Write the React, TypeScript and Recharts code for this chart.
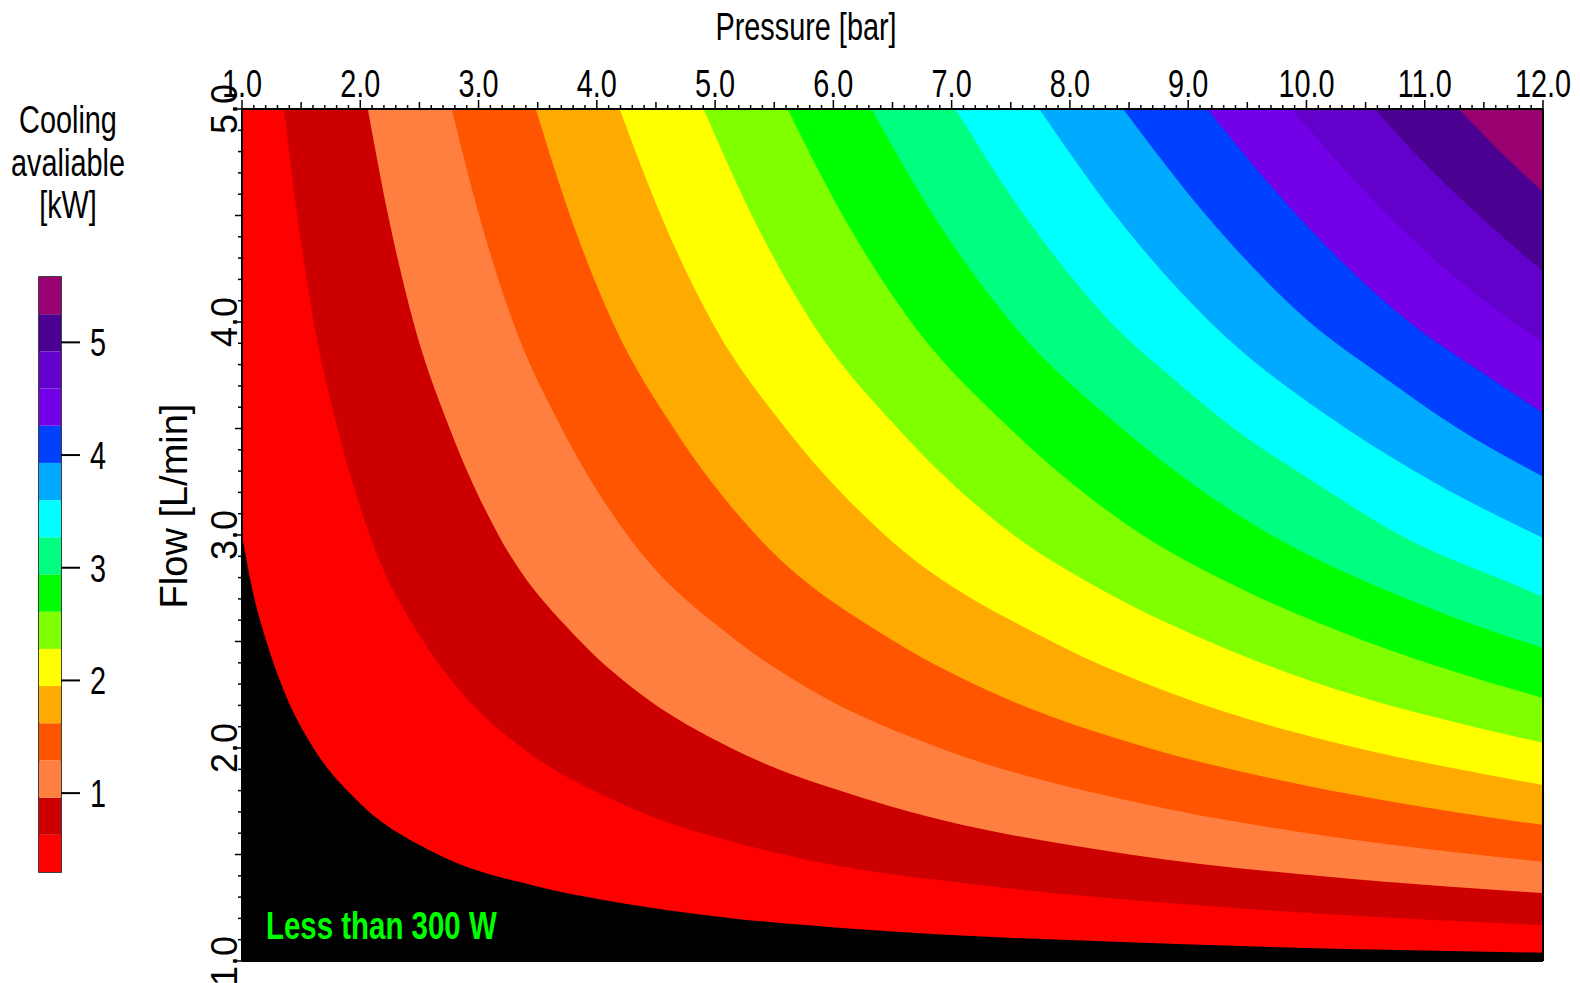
import React from 'react';
import { ComposedChart, Area, XAxis, YAxis, ReferenceArea, BarChart, Bar } from 'recharts';

const FONT = '"Liberation Sans", Arial, Helvetica, sans-serif';

// contour levels of the cooling map, kW (colour bar edges)
const levels = [0.3, 0.63, 0.96, 1.29, 1.62, 1.95, 2.28, 2.61, 2.94, 3.27, 3.6, 3.93, 4.26, 4.59, 4.92, 5.25, 5.58];
const bandColors = [
  '#ff0000', '#cc0000', '#ff7f40', '#ff5500', '#ffaa00', '#ffff00', '#80ff00', '#00ff00',
  '#00ff80', '#00ffff', '#00aaff', '#0040ff', '#7400e8', '#6200cc', '#4a0090', '#990070',
];

const pressureTicks = [1, 2, 3, 4, 5, 6, 7, 8, 9, 10, 11, 12];
const pressureLabels = ['1.0', '2.0', '3.0', '4.0', '5.0', '6.0', '7.0', '8.0', '9.0', '10.0', '11.0', '12.0'];
const flowTicks = [1, 2, 3, 4, 5];
const flowLabels = ['1.0', '2.0', '3.0', '4.0', '5.0'];
const kwTicks = [1, 2, 3, 4, 5];
const kwLabels = ['1', '2', '3', '4', '5'];

// contour edges: [pressure bar, flow L/min]
const edge030 = [[1.0, 3.0], [1.085, 2.75], [1.207, 2.5], [1.368, 2.25], [1.604, 2.0], [1.98, 1.75], [2.657, 1.5], [3.497, 1.35], [3.92, 1.3], [4.458, 1.25], [5.155, 1.2], [6.186, 1.15], [8.9, 1.08], [12, 1.039]];
const edge063 = [[1.355, 5], [1.468, 4.5], [1.607, 4], [1.809, 3.5], [2.079, 3], [2.535, 2.5], [2.873, 2.25], [3.369, 2], [4.161, 1.75], [5.58, 1.5], [7.343, 1.35], [8.235, 1.3], [9.362, 1.25], [10.82, 1.2], [12, 1.169]];
const edge096 = [[2.064, 5], [2.236, 4.5], [2.449, 4], [2.756, 3.5], [3.168, 3], [3.863, 2.5], [4.378, 2.25], [5.134, 2], [6.341, 1.75], [8.503, 1.5], [10.09, 1.4], [11.189, 1.35], [12, 1.319]];
const edge129 = [[2.774, 5], [3.005, 4.5], [3.291, 4], [3.704, 3.5], [4.257, 3], [5.191, 2.5], [5.882, 2.25], [6.899, 2], [8.52, 1.75], [10.01, 1.6], [11.426, 1.5], [12, 1.466]];
const edge162 = [[3.484, 5], [3.774, 4.5], [4.133, 4], [4.651, 3.5], [5.346, 3], [6.519, 2.5], [7.387, 2.25], [8.664, 2], [9.77, 1.85], [10.7, 1.75], [12, 1.638]];
const edge195 = [[4.193, 5], [4.542, 4.5], [4.974, 4], [5.598, 3.5], [6.435, 3], [7.847, 2.5], [8.892, 2.25], [10.429, 2], [11.29, 1.9], [12, 1.826]];
const edge228 = [[4.903, 5], [5.311, 4.5], [5.816, 4], [6.546, 3.5], [7.524, 3], [8.245, 2.75], [9.175, 2.5], [10.397, 2.25], [11.41, 2.1], [12, 2.025]];
const edge261 = [[5.613, 5], [6.08, 4.5], [6.658, 4], [7.493, 3.5], [8.613, 3], [9.44, 2.75], [10.503, 2.5], [11.3, 2.35], [12, 2.235]];
const edge294 = [[6.322, 5], [6.848, 4.5], [7.5, 4], [8.441, 3.5], [9.702, 3], [10.633, 2.75], [11.31, 2.6], [12, 2.469]];
const edge327 = [[7.032, 5], [7.617, 4.5], [7.956, 4.25], [8.342, 4], [8.84, 3.75], [9.388, 3.5], [10.06, 3.25], [10.791, 3], [11.83, 2.75], [12, 2.71]];
const edge360 = [[7.742, 5], [8.386, 4.5], [9.184, 4], [10.336, 3.5], [11.07, 3.25], [12, 2.986]];
const edge393 = [[8.451, 5], [9.154, 4.5], [10.026, 4], [10.63, 3.75], [11.283, 3.5], [12, 3.274]];
const edge426 = [[9.161, 5], [9.923, 4.5], [10.867, 4], [11.52, 3.75], [12, 3.573]];
const edge459 = [[9.871, 5], [10.692, 4.5], [11.17, 4.25], [12, 3.901]];
const edge492 = [[10.58, 5], [10.99, 4.75], [11.461, 4.5], [12, 4.236]];
const edge525 = [[11.29, 5], [11.73, 4.75], [12, 4.612]];

const edges = [edge030, edge063, edge096, edge129, edge162, edge195, edge228, edge261,
  edge294, edge327, edge360, edge393, edge426, edge459, edge492, edge525];

const below = [[1, 1], [12, 1]];

const toRows = (pts: number[][]) => pts.map(([p, f]) => ({ p, f }));

// every 0.1 between the labelled ticks
const subdivide = (major: number[], n: number) => {
  const out: number[] = [];
  for (let i = 0; i < major.length - 1; i++) {
    for (let j = 0; j < n; j++) out.push(Math.round((major[i] + ((major[i + 1] - major[i]) * j) / n) * 100) / 100);
  }
  out.push(major[major.length - 1]);
  return out;
};

const tickLen = (v: number, major: number[]) => {
  if (major.indexOf(v) >= 0) return 9;
  return Math.round(v * 10) % 5 === 0 ? 7 : 4;
};

const PressureTick = (props: any) => {
  const { x, y, payload } = props;
  const v = payload.value;
  const idx = pressureTicks.indexOf(v);
  return (
    <g>
      <line x1={x} y1={y} x2={x} y2={y - tickLen(v, pressureTicks)} stroke="#000" strokeWidth={1.5} />
      {idx >= 0 && (
        <text transform={`translate(${x} ${y - 12}) scale(0.74 1)`} textAnchor="middle" fontSize={39} fontFamily={FONT} fill="#000">
          {pressureLabels[idx]}
        </text>
      )}
    </g>
  );
};

const FlowTick = (props: any) => {
  const { x, y, payload } = props;
  const v = payload.value;
  const idx = flowTicks.indexOf(v);
  return (
    <g>
      <line x1={x} y1={y} x2={x - tickLen(v, flowTicks)} y2={y} stroke="#000" strokeWidth={1.5} />
      {idx >= 0 && (
        <text transform={`translate(${x - 5} ${y}) rotate(-90)`} textAnchor="middle" fontSize={36} fontFamily={FONT} fill="#000">
          {flowLabels[idx]}
        </text>
      )}
    </g>
  );
};

const KwTick = (props: any) => {
  const { x, y, payload } = props;
  const idx = kwTicks.indexOf(payload.value);
  return (
    <text transform={`translate(${x} ${y + 14}) scale(0.74 1)`} textAnchor="start" fontSize={39} fontFamily={FONT} fill="#000">
      {kwLabels[idx]}
    </text>
  );
};

const barRow: Record<string, any> = { name: 'kW', base: levels[0] };
bandColors.forEach((_, i) => {
  barRow['s' + i] = Math.round((levels[i + 1] - levels[i]) * 100) / 100;
});

const Label = ({ x, y, text, size = 39, sx = 0.74, anchor = 'middle', weight = 'normal', fill = '#000' }: any) => (
  <text transform={`translate(${x} ${y}) scale(${sx} 1)`} textAnchor={anchor} fontSize={size} fontWeight={weight} fontFamily={FONT} fill={fill}>
    {text}
  </text>
);

export default function App() {
  return (
    <div style={{ position: 'absolute', left: 0, top: 0, width: 1580, height: 983, overflow: 'hidden', background: '#fff' }}>
      <div style={{ position: 'absolute', left: 0, top: 0 }}>
        <ComposedChart width={1580} height={983} margin={{ top: 0, right: 0, bottom: 0, left: 0 }}>
          <XAxis
            type="number"
            dataKey="p"
            orientation="top"
            height={109}
            domain={[1, 12]}
            allowDataOverflow
            ticks={subdivide(pressureTicks, 10)}
            interval={0}
            tickSize={0}
            tickMargin={0}
            tick={<PressureTick />}
            tickLine={false}
            axisLine={{ stroke: '#000', strokeWidth: 2 }}
          />
          <XAxis
            xAxisId="frame"
            type="number"
            orientation="bottom"
            height={22}
            domain={[1, 12]}
            allowDataOverflow
            tick={false}
            tickLine={false}
            axisLine={{ stroke: '#000', strokeWidth: 2 }}
          />
          <YAxis
            type="number"
            dataKey="f"
            width={242}
            domain={[1, 5]}
            allowDataOverflow
            ticks={subdivide(flowTicks, 10)}
            interval={0}
            tickSize={0}
            tickMargin={0}
            tick={<FlowTick />}
            tickLine={false}
            axisLine={{ stroke: '#000', strokeWidth: 2 }}
          />
          <YAxis
            yAxisId="frame"
            type="number"
            orientation="right"
            width={37}
            domain={[1, 5]}
            allowDataOverflow
            tick={false}
            tickLine={false}
            axisLine={{ stroke: '#000', strokeWidth: 2 }}
          />
          <Area data={toRows(below)} dataKey="f" type="linear" baseValue={5} fill="#000" fillOpacity={1} stroke="none" isAnimationActive={false} />
          {edges.map((e, i) => (
            <Area
              key={i}
              data={toRows(e)}
              dataKey="f"
              type="monotone"
              baseValue={5}
              fill={bandColors[i]}
              fillOpacity={1}
              stroke="none"
              isAnimationActive={false}
            />
          ))}
          <Label x={806} y={40} text="Pressure [bar]" />
          <text transform="translate(187 506) rotate(-90)" textAnchor="middle" fontSize={38} fontFamily={FONT} fill="#000">
            Flow [L/min]
          </text>
        </ComposedChart>
      </div>
      <div style={{ position: 'absolute', left: 0, top: 0 }}>
        <BarChart width={1580} height={983} data={[barRow]} margin={{ top: 277, right: 1440, bottom: 111, left: 39 }} barCategoryGap={0}>
          <XAxis dataKey="name" hide />
          <YAxis
            orientation="right"
            width={79}
            domain={[levels[0], levels[levels.length - 1]]}
            allowDataOverflow
            ticks={kwTicks}
            interval={0}
            tickSize={19}
            tickMargin={10}
            tick={<KwTick />}
            tickLine={{ stroke: '#000', strokeWidth: 2 }}
            axisLine={false}
          />
          <Bar dataKey="base" stackId="cb" fill="transparent" isAnimationActive={false} />
          {bandColors.map((c, i) => (
            <Bar key={i} dataKey={'s' + i} stackId="cb" fill={c} isAnimationActive={false} />
          ))}
          <ReferenceArea y1={levels[0]} y2={levels[levels.length - 1]} fill="none" stroke="#000" strokeWidth={1.5} />
          <Label x={68} y={133} text="Cooling" />
          <Label x={68} y={176} text="avaliable" />
          <Label x={68} y={218} text="[kW]" />
          <Label x={266} y={939} text="Less than 300 W" size={38} sx={0.775} anchor="start" weight="bold" fill="#00ff00" />
        </BarChart>
      </div>
    </div>
  );
}
